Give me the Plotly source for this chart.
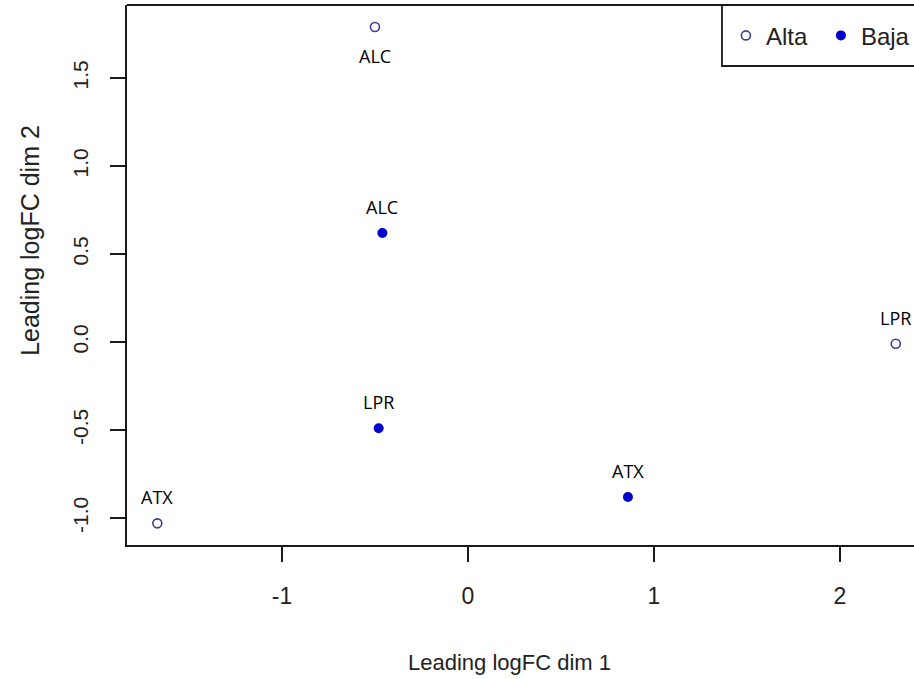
import plotly.graph_objects as go

groups = ["Alta", "Baja"]
alta_labels = ["ALC", "ATX", "LPR"]
alta_dim1 = [-0.50, -1.67, 2.30]
alta_dim2 = [1.79, -1.03, -0.01]
baja_labels = ["ALC", "ATX", "LPR"]
baja_dim1 = [-0.46, 0.86, -0.48]
baja_dim2 = [0.62, -0.88, -0.49]

x_ticks = [-1, 0, 1, 2]
x_tick_text = ["-1", "0", "1", "2"]
y_ticks = [-1.0, -0.5, 0.0, 0.5, 1.0, 1.5]
y_tick_text = ["-1.0", "-0.5", "0.0", "0.5", "1.0", "1.5"]

ALTA_COLOR = "#3d3d8f"
BAJA_COLOR = "#0000cc"
AX = "#1a1a1a"

fig = go.Figure()
fig.add_trace(go.Scatter(
    x=alta_dim1, y=alta_dim2, mode="markers", name=groups[0],
    marker=dict(symbol="circle-open", size=9, color=ALTA_COLOR, line=dict(width=1.6, color=ALTA_COLOR)),
))
fig.add_trace(go.Scatter(
    x=baja_dim1, y=baja_dim2, mode="markers", name=groups[1],
    marker=dict(symbol="circle", size=10, color=BAJA_COLOR),
))

label_font = dict(family="Open Sans", size=18, color="black")
annotations = []
for xs, ys, labs in [(alta_dim1, alta_dim2, alta_labels), (baja_dim1, baja_dim2, baja_labels)]:
    for x, y, t in zip(xs, ys, labs):
        below = (y > 1.7)
        annotations.append(dict(x=x, y=y, text=t, showarrow=False, font=label_font,
                                xref="x", yref="y", xanchor="center", yanchor="middle",
                                yshift=-29 if below else 26))

annotations.append(dict(text="Leading logFC dim 1", x=0.486, y=-0.217,
                        xref="paper", yref="paper", showarrow=False,
                        xanchor="center", yanchor="middle",
                        font=dict(family="Liberation Sans", size=22, color="#222")))
annotations.append(dict(text="Leading logFC dim 2", x=-0.1233, y=0.565,
                        xref="paper", yref="paper", showarrow=False, textangle=-90,
                        xanchor="center", yanchor="middle",
                        font=dict(family="Liberation Sans", size=25, color="#222")))

fig.update_layout(
    width=914, height=679,
    margin=dict(l=127, r=0, t=5, b=134, autoexpand=False),
    paper_bgcolor="white", plot_bgcolor="white",
    showlegend=True,
    legend=dict(orientation="h", x=0.761, xanchor="left", y=0.943, yanchor="middle",
                borderwidth=0, bgcolor="rgba(0,0,0,0)", entrywidth=50,
                font=dict(family="Liberation Sans", size=24, color="#222")),
    annotations=annotations,
    xaxis=dict(range=[-1.833, 2.398], tickvals=x_ticks, ticktext=x_tick_text,
               showgrid=False, zeroline=False,
               showline=True, linecolor=AX, linewidth=2, ticks="outside", ticklen=15,
               tickwidth=2, tickcolor=AX, ticklabelstandoff=14,
               tickfont=dict(family="Liberation Sans", size=23, color="#222")),
    yaxis=dict(range=[-1.153, 1.915], tickvals=y_ticks, ticktext=y_tick_text, showgrid=False,
               zeroline=False, showline=True, linecolor=AX, linewidth=2, ticks="outside",
               ticklen=15, tickwidth=2, tickcolor=AX, tickangle=-90, ticklabelstandoff=14,
               tickfont=dict(family="Liberation Sans", size=21, color="#222")),
    shapes=[
        dict(type="line", xref="paper", yref="paper", x0=0, x1=1, y0=1, y1=1,
             line=dict(color=AX, width=2)),
        dict(type="rect", xref="paper", yref="paper", x0=0.756, x1=1.02, y0=0.887, y1=1,
             line=dict(color=AX, width=1.8), fillcolor="white", layer="below"),
    ],
)

fig.write_html("out.html", config={"displayModeBar": False},
               post_script="document.body.style.margin='0';document.body.style.overflow='hidden';")
